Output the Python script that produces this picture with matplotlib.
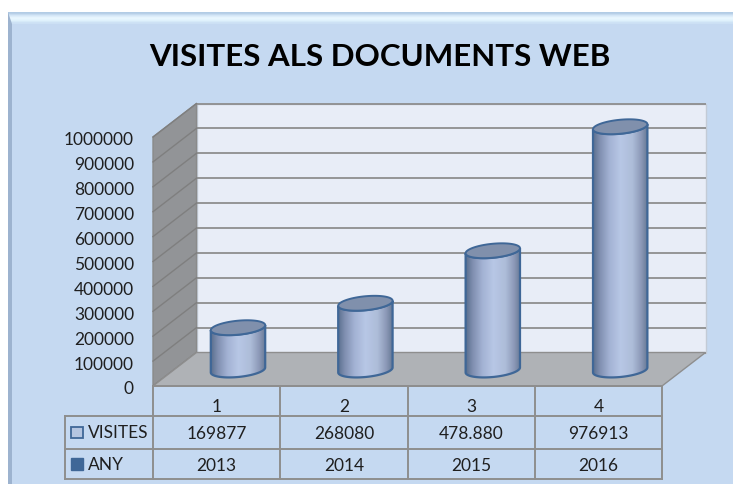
import matplotlib
matplotlib.use("Agg")
import matplotlib.pyplot as plt
import numpy as np
from matplotlib.patches import Polygon, Rectangle

plt.rcParams['font.family'] = ['Lato', 'DejaVu Sans']

categories = [1, 2, 3, 4]
visites = [169877, 268080, 478880, 976913]
visites_labels = ["169877", "268080", "478.880", "976913"]
anys = ["2013", "2014", "2015", "2016"]
yticks = [0, 100000, 200000, 300000, 400000, 500000, 600000, 700000, 800000, 900000, 1000000]
title = "VISITES ALS DOCUMENTS WEB"

W, H = 733, 485
BG = "#C5D9F1"
GRID = "#8E8E8E"
TEXT = "#1F1F1F"
EDGE = "#3F6797"

fig = plt.figure(figsize=(W / 100, H / 100), dpi=100, facecolor="white")

# pixel axes for frame, walls and table
bg = fig.add_axes([0, 0, 1, 1])
bg.axis("off")

bg.add_patch(Rectangle((8, 13), W - 8, H - 13, fc=BG, ec="none"))
# bevel on top and left
bg.imshow(np.array([[[0.70, 0.80, 0.90]], [[0.84, 0.91, 0.97]], [[0.92, 0.97, 1.0]],
                    [[0.88, 0.95, 0.99]], [[0.80, 0.88, 0.96]]]),
          extent=(8, W, 25, 13), aspect="auto", zorder=1, interpolation="bilinear")
bg.add_patch(Polygon([(8, 13), (12, 25), (12, H), (8, H)], fc="#9DB3CF", ec="none", zorder=2))
bg.set_xlim(0, W)
bg.set_ylim(H, 0)

fx0, fx1, fy0, fy1 = 153, 662, 387, 138
dx, dy = 43.5, -33.5


def front_y(v):
    return fy0 + (fy1 - fy0) * v / yticks[-1]


# back wall, side wall, floor
bg.add_patch(Rectangle((fx0 + dx, fy1 + dy), fx1 - fx0, fy0 - fy1, fc="#E8EDF7", ec="#C3CBD6", lw=1, zorder=2))
bg.add_patch(Polygon([(fx0, fy1), (fx0 + dx, fy1 + dy), (fx0 + dx, fy0 + dy), (fx0, fy0)],
                     fc="#929497", ec="#8A8A8A", lw=1, zorder=2))
bg.add_patch(Polygon([(fx0, fy0), (fx0 + dx, fy0 + dy), (fx1 + dx, fy0 + dy), (fx1, fy0)],
                     fc="#AFB2B6", ec="#8E8E8E", lw=1, zorder=3))

for v in yticks:
    y = front_y(v)
    bg.plot([fx0 + dx, fx1 + dx], [y + dy, y + dy], color=GRID, lw=1.3, zorder=2.5, solid_capstyle="butt")
    bg.plot([fx0, fx0 + dx], [y, y + dy], color="#7F7F7F", lw=1, zorder=2.5)
    bg.text(134, y + 2.5, str(v), ha="right", va="center", fontsize=12.5, color=TEXT, zorder=5)

# table
col_w = (fx1 - fx0) / len(categories)
row_y = [387, 417, 450, 480]
tx0 = 65
for y in row_y[1:]:
    bg.plot([tx0, fx1], [y, y], color=GRID, lw=1.4, zorder=4)
bg.plot([fx0, fx1], [row_y[0], row_y[0]], color=GRID, lw=1.4, zorder=4)
bg.plot([tx0, tx0], [row_y[1], row_y[3]], color=GRID, lw=1.4, zorder=4)
for i in range(len(categories) + 1):
    x = fx0 + i * col_w
    bg.plot([x, x], [row_y[0], row_y[3]], color=GRID, lw=1.4, zorder=4)
for i, c in enumerate(categories):
    x = fx0 + (i + 0.5) * col_w
    bg.text(x, 407, str(c), ha="center", va="center", fontsize=12.5, color=TEXT, zorder=5)
    bg.text(x, 434, visites_labels[i], ha="center", va="center", fontsize=12.5, color=TEXT, zorder=5)
    bg.text(x, 466, anys[i], ha="center", va="center", fontsize=12.5, color=TEXT, zorder=5)

bg.add_patch(Rectangle((71, 428), 12, 11, fc="#B4C5E0", ec=EDGE, lw=1.3, zorder=5))
bg.add_patch(Rectangle((71, 459), 12, 12, fc=EDGE, ec=EDGE, lw=1, zorder=5))
bg.text(88, 433, "VISITES", ha="left", va="center", fontsize=12.5, color=TEXT, zorder=5)
bg.text(88, 465, "ANY", ha="left", va="center", fontsize=12.5, color=TEXT, zorder=5)

bg.text(380, 57, title, ha="center", va="center", fontsize=22.5, fontweight="bold", color="black", zorder=5)

# cylinder axes: category / value scales placed over the mid depth plane,
# the value scale runs a bit past 0 and the top so the ellipses are not cut
base_y = 371.0
cx0 = 238 - 0.5 * 127.4
cx1 = 238 + 3.5 * 127.4
px_per_val = (fy0 - fy1) / yticks[-1]
pad = 100000
ax = fig.add_axes([cx0 / W, 1 - (base_y + pad * px_per_val) / H, (cx1 - cx0) / W,
                   (yticks[-1] + 2 * pad) * px_per_val / H], zorder=2)
ax.patch.set_alpha(0)
ax.axis("off")

half_w = 27.2 / 127.4
a = 7.0 / px_per_val
tilt = 2.5 / px_per_val

shade = np.array([0.0, 0.12, 0.3, 0.5, 0.72, 0.88, 1.0])
u = np.linspace(0, 1, 100)
r = np.interp(u, shade, [0.36, 0.50, 0.64, 0.72, 0.68, 0.55, 0.40])
g = np.interp(u, shade, [0.44, 0.56, 0.70, 0.78, 0.74, 0.60, 0.47])
b = np.interp(u, shade, [0.56, 0.69, 0.83, 0.90, 0.85, 0.72, 0.58])
gradient = np.dstack([r, g, b])

t = np.linspace(0, 2 * np.pi, 101)
for c, v in zip(categories, visites):
    ex = c + half_w * np.cos(t)
    ey = tilt * np.cos(t) + a * np.sin(t)
    # lower half of the tilted ellipse goes round the front
    body_x = np.concatenate([ex[50:], ex[50:][::-1]])
    body_y = np.concatenate([ey[50:], ey[50:][::-1] + v])
    body = Polygon(np.column_stack([body_x, body_y]), closed=True, fc="none", ec=EDGE, lw=1.6, zorder=3)
    im = ax.imshow(gradient, extent=(c - half_w, c + half_w, -a * 2, v + a * 2), aspect="auto", zorder=2)
    ax.add_patch(body)
    im.set_clip_path(body)
    ax.add_patch(Polygon(np.column_stack([ex, ey + v]), closed=True, fc="#8090AC", ec=EDGE, lw=1.4, zorder=4))
ax.set_xlim(0.5, 4.5)
ax.set_ylim(-pad, yticks[-1] + pad)

fig.savefig("out.png", dpi=100)
